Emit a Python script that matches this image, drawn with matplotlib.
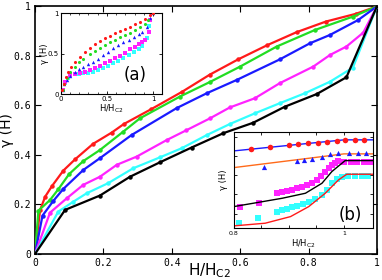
import matplotlib
matplotlib.use('Agg')
import matplotlib.pyplot as plt

# main panel: gamma(H) vs H/Hc2
red_x = [0, 0.015, 0.03, 0.05, 0.083, 0.117, 0.17, 0.224, 0.26, 0.34, 0.43, 0.512, 0.594, 0.68, 0.765, 0.851, 0.938, 1.0]
red_y = [0, 0.178, 0.232, 0.275, 0.337, 0.382, 0.445, 0.49, 0.525, 0.585, 0.655, 0.725, 0.786, 0.844, 0.896, 0.939, 0.97, 1.0]
green_x = [0, 0.01, 0.044, 0.068, 0.1, 0.141, 0.19, 0.258, 0.307, 0.424, 0.512, 0.6, 0.707, 0.819, 0.93, 1.0]
green_y = [0, 0.175, 0.218, 0.261, 0.323, 0.375, 0.42, 0.494, 0.548, 0.636, 0.695, 0.757, 0.838, 0.905, 0.959, 1.0]
blue_x = [0, 0.022, 0.054, 0.083, 0.141, 0.19, 0.283, 0.414, 0.502, 0.59, 0.716, 0.804, 0.863, 0.945, 1.0]
blue_y = [0, 0.155, 0.215, 0.263, 0.339, 0.387, 0.481, 0.589, 0.649, 0.703, 0.786, 0.851, 0.885, 0.945, 1.0]
mag_x = [0, 0.044, 0.093, 0.141, 0.19, 0.239, 0.297, 0.385, 0.443, 0.512, 0.57, 0.643, 0.716, 0.814, 0.863, 0.911, 0.96, 1.0]
mag_y = [0, 0.167, 0.225, 0.279, 0.312, 0.36, 0.393, 0.46, 0.5, 0.548, 0.592, 0.629, 0.69, 0.757, 0.804, 0.838, 0.894, 1.0]
cyan_x = [0, 0.068, 0.112, 0.151, 0.214, 0.287, 0.365, 0.429, 0.502, 0.57, 0.643, 0.716, 0.789, 0.863, 0.93, 1.0]
cyan_y = [0, 0.171, 0.211, 0.245, 0.286, 0.346, 0.39, 0.427, 0.48, 0.525, 0.568, 0.609, 0.649, 0.696, 0.753, 1.0]
black_x = [0, 0.088, 0.19, 0.278, 0.365, 0.458, 0.551, 0.638, 0.731, 0.824, 0.911, 1.0]
black_y = [0, 0.178, 0.236, 0.312, 0.37, 0.43, 0.488, 0.53, 0.595, 0.646, 0.714, 1.0]

main_ticks = [0, 0.2, 0.4, 0.6, 0.8, 1]
main_ticklabels = ['0', '0.2', '0.4', '0.6', '0.8', '1']

# inset (a)
a_red_x = [0.018, 0.033, 0.055, 0.08, 0.116, 0.153, 0.207, 0.262, 0.316, 0.371, 0.425, 0.48, 0.534, 0.589, 0.643, 0.698, 0.752, 0.807, 0.861, 0.916, 0.97, 1.0]
a_red_y = [0.05, 0.13, 0.215, 0.27, 0.34, 0.4, 0.462, 0.524, 0.574, 0.615, 0.657, 0.69, 0.719, 0.752, 0.781, 0.805, 0.834, 0.867, 0.896, 0.929, 0.979, 1.0]
a_green_x = [0.02, 0.04, 0.07, 0.1, 0.15, 0.2, 0.243, 0.316, 0.37, 0.425, 0.48, 0.534, 0.589, 0.643, 0.698, 0.752, 0.807, 0.861, 0.916, 0.95, 1.0]
a_green_y = [0.05, 0.12, 0.2, 0.27, 0.34, 0.4, 0.434, 0.492, 0.535, 0.574, 0.61, 0.64, 0.672, 0.702, 0.73, 0.76, 0.79, 0.826, 0.87, 0.917, 1.0]
a_blue_x = [0.02, 0.04, 0.07, 0.1, 0.153, 0.2, 0.243, 0.297, 0.352, 0.406, 0.461, 0.516, 0.57, 0.625, 0.679, 0.734, 0.788, 0.843, 0.88, 0.934, 0.97, 1.0]
a_blue_y = [0.05, 0.12, 0.18, 0.23, 0.277, 0.31, 0.339, 0.37, 0.4, 0.44, 0.483, 0.525, 0.566, 0.605, 0.64, 0.675, 0.71, 0.745, 0.772, 0.834, 0.94, 1.0]
a_mag_x = [0.02, 0.05, 0.098, 0.15, 0.207, 0.26, 0.316, 0.37, 0.425, 0.48, 0.534, 0.589, 0.643, 0.698, 0.752, 0.8, 0.843, 0.88, 0.916, 0.952, 0.97, 1.0]
a_mag_y = [0.05, 0.15, 0.235, 0.25, 0.256, 0.275, 0.297, 0.322, 0.35, 0.38, 0.409, 0.442, 0.475, 0.512, 0.554, 0.585, 0.616, 0.64, 0.669, 0.772, 0.917, 1.0]
a_cyan_x = [0.02, 0.05, 0.08, 0.153, 0.2, 0.243, 0.297, 0.352, 0.406, 0.461, 0.516, 0.57, 0.625, 0.679, 0.734, 0.788, 0.843, 0.88, 0.934, 0.96, 1.0]
a_cyan_y = [0.05, 0.14, 0.195, 0.244, 0.25, 0.256, 0.265, 0.277, 0.296, 0.318, 0.348, 0.38, 0.41, 0.442, 0.48, 0.524, 0.56, 0.598, 0.69, 0.85, 1.0]

# inset (b), y in arbitrary units
b_circ_x = [0.832, 0.865, 0.9, 0.917, 0.935, 0.953, 0.97, 0.987, 1.002, 1.02, 1.037]
b_circ_y = [0.82, 0.847, 0.865, 0.875, 0.882, 0.889, 0.899, 0.91, 0.917, 0.917, 0.917]
b_blue_line_x = [0.8, 1.0, 1.053]
b_blue_line_y = [0.802, 0.917, 0.917]
b_tri_x = [0.855, 0.915, 0.927, 0.942, 0.96, 0.975, 0.99, 1.009, 1.025, 1.04]
b_tri_y = [0.639, 0.701, 0.708, 0.719, 0.743, 0.771, 0.778, 0.778, 0.778, 0.778]
b_orange_line_x = [0.8, 1.0, 1.053]
b_orange_line_y = [0.628, 0.771, 0.771]
b_mag_x = [0.812, 0.845, 0.879, 0.888, 0.897, 0.906, 0.915, 0.924, 0.933, 0.942, 0.951, 0.958, 0.966, 0.972, 0.978, 0.984, 0.99, 1.0, 1.012, 1.024, 1.036, 1.048]
b_mag_y = [0.215, 0.257, 0.361, 0.372, 0.385, 0.398, 0.413, 0.43, 0.448, 0.472, 0.5, 0.54, 0.587, 0.625, 0.656, 0.68, 0.701, 0.69, 0.69, 0.69, 0.69, 0.69]
b_black_line_x = [0.8, 0.888, 0.93, 0.96, 0.978, 1.002, 1.053]
b_black_line_y = [0.222, 0.309, 0.361, 0.465, 0.587, 0.701, 0.701]
b_cyan_x = [0.81, 0.844, 0.879, 0.888, 0.897, 0.906, 0.915, 0.926, 0.936, 0.948, 0.96, 0.969, 0.978, 0.987, 0.996, 1.008, 1.02, 1.032, 1.044]
b_cyan_y = [0.055, 0.101, 0.17, 0.185, 0.2, 0.215, 0.232, 0.252, 0.274, 0.305, 0.344, 0.4, 0.465, 0.505, 0.535, 0.542, 0.542, 0.542, 0.542]
b_red_line_x = [0.8, 0.857, 0.903, 0.936, 0.966, 0.99, 1.005, 1.053]
b_red_line_y = [0.021, 0.049, 0.118, 0.222, 0.361, 0.5, 0.559, 0.559]

tickfont = 'DejaVu Sans Mono'

fig = plt.figure(figsize=(3.82, 2.80), dpi=100)
ax = fig.add_axes([0.0916, 0.093, 0.895, 0.884])

series = [
    (red_x, red_y, '#ff1a1a'),
    (green_x, green_y, '#22dd22'),
    (blue_x, blue_y, '#1a1aff'),
    (mag_x, mag_y, '#ff22ff'),
    (cyan_x, cyan_y, '#33ffff'),
    (black_x, black_y, 'black'),
]
for xs, ys, c in series:
    ax.plot(xs, ys, '-o', color=c, lw=1.6, ms=2.2, zorder=3)

ax.set_xlim(0, 1)
ax.set_ylim(0, 1)
ax.set_xticks(main_ticks)
ax.set_xticklabels(main_ticklabels, family=tickfont, fontsize=7)
ax.set_yticks(main_ticks)
ax.set_yticklabels(main_ticklabels, family=tickfont, fontsize=7)
ax.tick_params(direction='in', top=True, right=True, length=4, width=0.8, pad=3)
for s in ax.spines.values():
    s.set_linewidth(1.2)
ax.set_xlabel('H/H$_{\\mathrm{C2}}$', fontsize=11)
ax.xaxis.set_label_coords(0.51, -0.03)
ax.set_ylabel('γ (H)', fontsize=10)
ax.yaxis.set_label_coords(-0.062, 0.5)

# inset (a)
axa = fig.add_axes([0.159, 0.664, 0.266, 0.288])
axa.scatter(a_red_x, a_red_y, s=5, marker='o', color='#ff1a1a', lw=0, zorder=5)
axa.scatter(a_green_x, a_green_y, s=5, marker='o', color='#22dd22', lw=0, zorder=4)
axa.scatter(a_blue_x, a_blue_y, s=6, marker='^', color='#1a1aff', lw=0, zorder=3)
axa.scatter(a_mag_x, a_mag_y, s=7, marker='s', color='#ff22ff', lw=0, zorder=2)
axa.scatter(a_cyan_x, a_cyan_y, s=7, marker='s', color='#33ffff', lw=0, zorder=1)
axa.set_xlim(0, 1.1)
axa.set_ylim(0, 1)
axa.set_xticks([0, 0.5, 1])
axa.set_xticklabels(['0', '0.5', '1'], fontsize=5)
axa.set_yticks([0, 0.5, 1])
axa.set_yticklabels(['0', '0.5', '1'], fontsize=5)
axa.set_xticks([0.1, 0.2, 0.3, 0.4, 0.6, 0.7, 0.8, 0.9], minor=True)
axa.tick_params(direction='in', top=True, right=True, length=2, width=0.6, pad=1.5)
axa.tick_params(which='minor', direction='in', top=True, length=1.5, width=0.5)
axa.set_xlabel('H/H$_{\\mathrm{C2}}$', fontsize=6, labelpad=0)
axa.set_ylabel('γ (H)', fontsize=6, labelpad=-1)
axa.text(0.73, 0.24, '(a)', transform=axa.transAxes, fontsize=12, ha='center', va='center')

# inset (b)
axb = fig.add_axes([0.612, 0.186, 0.365, 0.343])
axb.plot(b_blue_line_x, b_blue_line_y, color='#1a1aff', lw=1.0, zorder=2)
axb.scatter(b_circ_x, b_circ_y, s=16, marker='o', color='#ff1a1a', lw=0, zorder=3)
axb.plot(b_orange_line_x, b_orange_line_y, color='#ff6a1a', lw=1.0, zorder=2)
axb.scatter(b_tri_x, b_tri_y, s=14, marker='^', color='#1a1aff', lw=0, zorder=3)
axb.scatter(b_mag_x, b_mag_y, s=22, marker='s', color='#ff22ff', lw=0, zorder=1)
axb.plot(b_black_line_x, b_black_line_y, color='black', lw=1.0, zorder=2)
axb.scatter(b_cyan_x, b_cyan_y, s=22, marker='s', color='#33ffff', lw=0, zorder=1)
axb.plot(b_red_line_x, b_red_line_y, color='#ff1a1a', lw=1.0, zorder=2)
axb.set_xlim(0.8, 1.053)
axb.set_ylim(0, 1)
axb.set_xticks([0.8, 0.85, 0.9, 0.95, 1.0])
axb.set_xticklabels(['0.8', '', '', '', '1'], fontsize=4.5)
axb.set_yticks([0.15, 0.35, 0.55, 0.75, 0.95])
axb.set_yticklabels([])
axb.tick_params(direction='in', top=True, right=True, length=2, width=0.6, pad=2)
axb.set_xlabel('H/H$_{\\mathrm{C2}}$', fontsize=6, labelpad=1)
axb.set_ylabel('γ (H)', fontsize=6, labelpad=2)
axb.text(0.837, 0.135, '(b)', transform=axb.transAxes, fontsize=12, ha='center', va='center')

fig.savefig('out.png', dpi=100)
